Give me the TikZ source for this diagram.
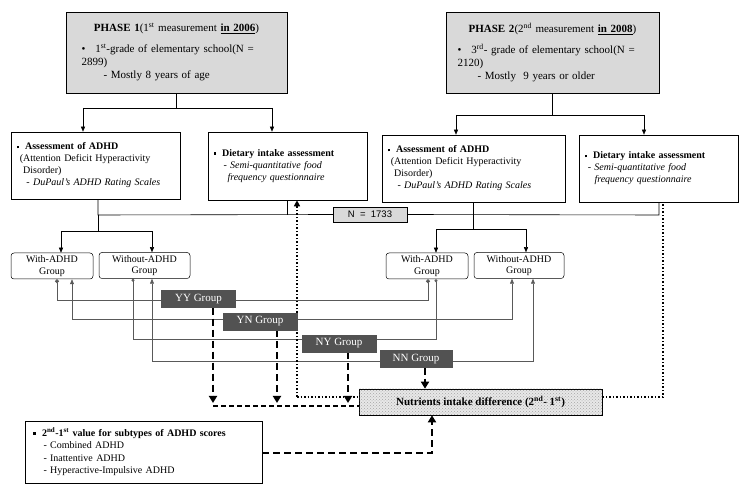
\documentclass[tikz,border=0pt]{standalone}
\usepackage{fontspec}
\setmainfont{Liberation Serif}
\newfontfamily\sansf{Liberation Sans}
\usetikzlibrary{arrows.meta,patterns,backgrounds}
\newcommand{\bul}{\raisebox{1.5pt}{\rule{2.6pt}{2.6pt}}\hspace{6pt}}
\begin{document}
\begin{tikzpicture}[x=1pt,y=-1pt,
  box/.style={draw,line width=0.6pt,inner sep=0pt,align=left,font=\fontsize{10}{12}\selectfont},
  phase/.style={draw,line width=0.6pt,fill=gray!30,inner sep=0pt,align=left,font=\fontsize{11}{13}\selectfont},
  grp/.style={draw,rounded corners=3pt,line width=0.5pt,inner sep=0pt,align=center,minimum width=82pt,minimum height=26pt,font=\fontsize{10}{11.5}\selectfont},
  dark/.style={fill=black!68,draw=black!68,text=white,inner sep=0pt,minimum width=74pt,minimum height=17pt,font=\fontsize{11}{12}\selectfont},
  arr/.style={-{Triangle[length=5pt,width=4pt]},line width=0.5pt},
  conn/.style={line width=0.6pt,draw=black!65},
  ca/.style={conn,{Triangle[length=5pt,width=4pt]}-{Triangle[length=5pt,width=4pt]}},
  cd/.style={conn,{Circle[length=4pt]}-{Circle[length=4pt]}},
  thick dash/.style={line width=2.4pt,dash pattern=on 7pt off 4pt,-{Triangle[length=7pt,width=8pt]}},
  dotl/.style={line width=1.5pt,dotted}]
\useasboundingbox (0,0) rectangle (748,494);
% phases
\node[phase,minimum width=221pt,minimum height=81pt,text width=190pt] (p1) at (176.5,52.5)
 {\hfill\textbf{PHASE 1}(1\textsuperscript{st} measurement \underline{\textbf{in 2006}})\hfill\null\\[8pt]
 •\hspace{10pt}1\textsuperscript{st}-grade of elementary school(N = 2899)\\
 \hspace{22pt}- Mostly 8 years of age};
\node[phase,minimum width=213pt,minimum height=81pt,text width=190pt] (p2) at (552.5,52.5)
 {\hfill\textbf{PHASE 2}(2\textsuperscript{nd} measurement \underline{\textbf{in 2008}})\hfill\null\\[8pt]
 •\hspace{10pt}3\textsuperscript{rd}- grade of elementary school(N = 2120)\\
 \hspace{20pt}- Mostly\ \ 9 years or older};
% assessments
\node[box,minimum width=169pt,minimum height=67pt,text width=158pt] (a1) at (95.5,165.5)
 {\bul\textbf{Assessment of ADHD}\\ \ (Attention Deficit Hyperactivity\\ \ \ Disorder)\\ \ \ \ \textit{- DuPaul's ADHD Rating Scales}};
\node[box,minimum width=159pt,minimum height=68pt,text width=148pt] (d1) at (287.5,166)
 {\bul\textbf{Dietary intake assessment}\\ \hspace{10pt}\textit{- Semi-quantitative food}\\ \hspace{14pt}\textit{frequency questionnaire}};
\node[box,minimum width=183pt,minimum height=67pt,text width=172pt] (a2) at (473.5,168.5)
 {\bul\textbf{Assessment of ADHD}\\ \ (Attention Deficit Hyperactivity\\ \ \ Disorder)\\ \ \ \ \textit{- DuPaul's ADHD Rating Scales}};
\node[box,minimum width=159pt,minimum height=67pt,text width=148pt] (d2) at (658.5,168.5)
 {\bul\textbf{Dietary intake assessment}\\ \ \textit{- Semi-quantitative food}\\ \hspace{10pt}\textit{frequency questionnaire}};
\node[draw,fill=gray!30,line width=0.5pt,minimum width=74pt,minimum height=15pt,inner sep=0pt,font=\sansf\fontsize{9.5}{10}\selectfont] (n) at (370,214.5) {N\ \ =\ \ 1733};
% groups
\node[grp] (w1) at (52,266) {With-ADHD\\Group};
\node[grp,minimum width=91pt] (o1) at (144.5,265.5) {Without-ADHD\\Group};
\node[grp] (w2) at (427,266) {With-ADHD\\Group};
\node[grp,minimum width=90pt] (o2) at (519,265.5) {Without-ADHD\\Group};
\node[dark] (yy) at (198.5,299) {YY Group};
\node[dark] (yn) at (260,321.5) {YN Group};
\node[dark] (ny) at (339,343.5) {NY Group};
\node[dark,minimum width=72pt] (nn) at (416,359) {NN Group};
\node[draw,line width=0.6pt,fill=gray!18,postaction={pattern=crosshatch dots,pattern color=gray!70},minimum width=243pt,minimum height=26pt,inner sep=0pt,font=\fontsize{11}{12}\selectfont] (nut) at (480.5,402)
 {\textbf{Nutrients intake difference (2\textsuperscript{nd}- 1\textsuperscript{st})}};
\node[box,minimum width=237pt,minimum height=62pt,text width=220pt,font=\fontsize{10}{12.5}\selectfont] (sub) at (143.5,452)
 {\bul\textbf{2\textsuperscript{nd}-1\textsuperscript{st} value for subtypes of ADHD scores}\\ \hspace{10pt}- Combined ADHD\\ \hspace{10pt}- Inattentive ADHD\\ \hspace{10pt}- Hyperactive-Impulsive ADHD};
\begin{scope}[on background layer]
% phase splits
\draw[line width=0.6pt] (p1.south) -- (176.5,108);
\draw[arr] (83,108) -- (272,108) (83,108) -- (83,0 |- a1.north);
\draw[arr] (272,108) -- (272,0 |- d1.north);
\draw[line width=0.6pt] (p2.south) -- (552.5,115);
\draw[arr] (456,115) -- (644,115) (456,115) -- (456,0 |- a2.north);
\draw[arr] (644,115) -- (644,0 |- d2.north);
% N line
\draw[line width=0.6pt] (98,0 |- a1.south) -- (98,215) -- (n.west);
\draw[line width=0.6pt] (287,0 |- d1.south) -- (287,215);
\draw[line width=0.6pt] (n.east) -- (659,215) -- (659,0 |- d2.south);
\draw[line width=0.6pt] (98,215) -- (98,231);
\draw[arr] (98,231) -- (61,231) -- (61,0 |- w1.north);
\draw[arr] (98,231) -- (152,231) -- (152,0 |- o1.north);
\draw[line width=0.6pt] (473,0 |- a2.south) -- (473,229);
\draw[arr] (473,229) -- (436,229) -- (436,0 |- w2.north);
\draw[arr] (473,229) -- (526,229) -- (526,0 |- o2.north);
% group connectors
\draw[cd] (57,0 |- w1.south) -- (57,300) -- (428,300) -- (428,0 |- w2.south);
\draw[ca] (72,0 |- w1.south) -- (72,319) -- (512,319) -- (512,0 |- o2.south);
\draw[conn,{Circle[length=3pt]}-{Circle[length=3pt]}] (133,0 |- o1.south) -- (133,339) -- (436,339) -- (436,0 |- w2.south);
\draw[ca] (152,0 |- o1.south) -- (152,361) -- (533,361) -- (533,0 |- o2.south);
% dotted
\draw[dotl,-{Triangle[length=6pt,width=6pt]}] (297,397) -- (297,0 |- d1.south);
\draw[dotl] (297,397) -- (nut.west |- 0,397);
\draw[dotl] (nut.east |- 0,397) -- (663,397) -- (663,0 |- d2.south);
% dashed
\draw[thick dash] (213,0 |- yy.south) -- (213,403);
\draw[thick dash] (277,0 |- yn.south) -- (277,403);
\draw[thick dash] (348,0 |- ny.south) -- (348,403);
\draw[thick dash] (425,0 |- nn.south) -- (425,0 |- nut.north);
\draw[line width=1.4pt,dash pattern=on 5pt off 3pt] (213,406) -- (nut.west |- 0,406);
\draw[thick dash] (sub.east |- 0,453) -- (432,453) -- (432,0 |- nut.south);
\end{scope}
\end{tikzpicture}
\end{document}
